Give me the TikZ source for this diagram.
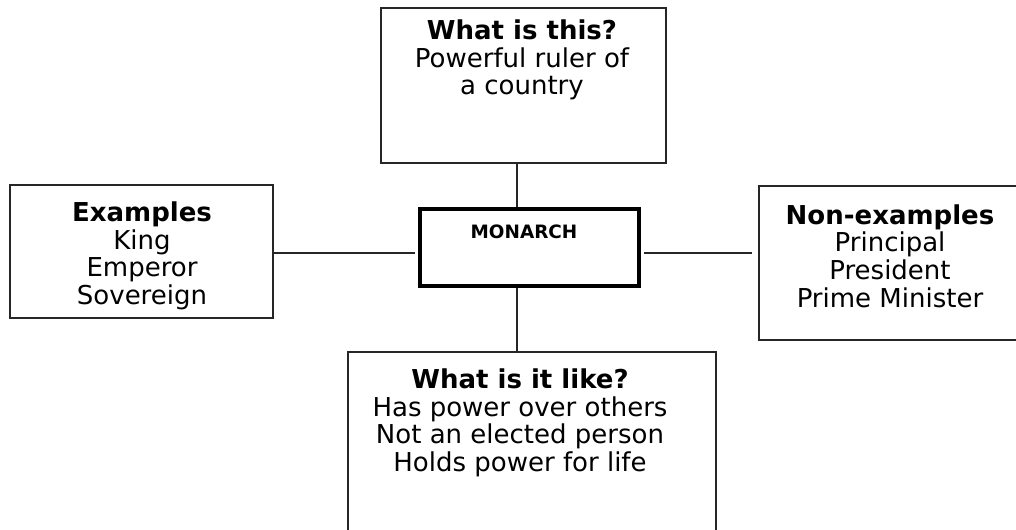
\documentclass[tikz,border=0pt]{standalone}
\usepackage{fontspec}
\setmainfont{DejaVu Sans}
\begin{document}
\begin{tikzpicture}[x=0.75pt,y=-0.75pt,
  box/.style={draw=black!85, line width=1.1pt, inner sep=0pt, rectangle},
  centrebox/.style={draw=black, line width=3.6pt, inner sep=0pt, rectangle},
  words/.style={align=center, inner sep=0pt, font=\fontsize{19.5}{20.7}\selectfont},
  link/.style={draw=black!85, line width=1.1pt}]
\useasboundingbox (0,0) rectangle (1016,529);

% frames
\node[box, minimum width=213.75pt, minimum height=116.25pt] (top) at (523.5,85.5) {};
\node[box, minimum width=197.25pt, minimum height=99.75pt] (left) at (141.5,251.5) {};
\node[box, minimum width=195.75pt, minimum height=115.5pt] (right) at (889.5,263) {};
\node[box, minimum width=276pt, minimum height=144.75pt] (bottom) at (532,448.5) {};
\node[centrebox, minimum width=164.25pt, minimum height=57.75pt] (mon) at (529.5,247.5) {};

% texts
\node[words] (toptext) at (522,60) {\textbf{What is this?}\\Powerful ruler of\\a country};
\node[words] (lefttext) at (142,256) {\textbf{Examples}\\King\\Emperor\\Sovereign};
\node[words] (righttext) at (890,256) {\textbf{Non-examples}\\Principal\\President\\Prime Minister};
\node[words] (bottomtext) at (520,423) {\textbf{What is it like?}\\Has power over others\\Not an elected person\\Holds power for life};
\node[words, font=\fontsize{13.8}{16}\selectfont\bfseries] (montext) at (524,232) {MONARCH};

% connectors
\coordinate (vx) at (517,0);
\coordinate (hy) at (0,253);
\draw[link] (vx |- top.south) -- (vx |- mon.north);
\draw[link] (vx |- mon.south) -- (vx |- bottom.north);
\draw[link, shorten >=2pt] (left.east |- hy) -- (mon.west |- hy);
\draw[link, shorten <=2pt, shorten >=4.5pt] (mon.east |- hy) -- (right.west |- hy);
\end{tikzpicture}
\end{document}
